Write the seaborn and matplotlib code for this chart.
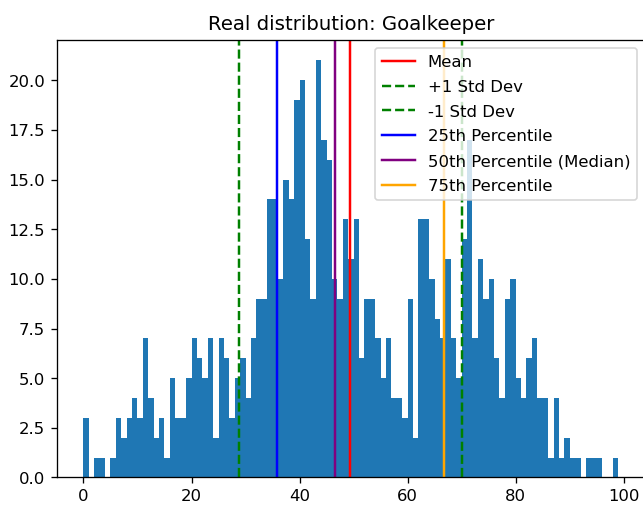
import numpy as np
import pandas as pd
import matplotlib
matplotlib.use("Agg")
import matplotlib.pyplot as plt
import seaborn as sns

# Score bins: unit-wide bins from 0 to 99 (last bin is [98, 99])
bin_starts = np.arange(0, 99)

# Number of goalkeepers per unit bin
counts = np.array(
    [3, 0, 1, 1, 0, 1, 3, 2, 3, 4, 3, 7, 4, 2, 3, 1, 5, 3, 3, 5,
     7, 6, 5, 7, 2, 7, 6, 3, 5, 6, 4, 7, 9, 9,
     14, 14, 10, 15, 14, 19, 20, 12, 9, 21, 17, 16, 10, 9, 13, 11, 13, 6,
     9, 9, 7, 5, 7, 4, 4, 3, 9, 2, 13, 13, 10, 8, 7, 11, 7, 5,
     12, 17, 7, 11, 9, 10, 6, 4, 9, 10, 5, 4, 6, 7, 4, 4,
     1, 4, 1, 2, 1, 1, 0, 1, 1, 1, 0, 0, 1]
)

# Summary statistics of the score distribution
mean_value = 49.42
std_value = 20.65
percentile_25 = 35.8
percentile_50 = 46.5
percentile_75 = 66.7

scores = pd.DataFrame({"score": bin_starts, "n": counts})

DPI = 118.4
fig = plt.figure(figsize=(643.4 / DPI, 506.4 / DPI), dpi=DPI)
ax = fig.add_axes([0.08813, 0.05632, 0.9145, 0.86462])

sns.histplot(data=scores, x="score", weights="n", binwidth=1, binrange=(0, 99),
             ax=ax, color="#1f77b4", alpha=1.0, edgecolor="none", linewidth=0)

ax.axvline(mean_value, color="red", linestyle="-", label="Mean")
ax.axvline(mean_value + std_value, color="green", linestyle="--", label="+1 Std Dev")
ax.axvline(mean_value - std_value, color="green", linestyle="--", label="-1 Std Dev")
ax.axvline(percentile_25, color="blue", linestyle="-", label="25th Percentile")
ax.axvline(percentile_50, color="purple", linestyle="-", label="50th Percentile (Median)")
ax.axvline(percentile_75, color="orange", linestyle="-", label="75th Percentile")

ax.set_xlabel("")
ax.set_ylabel("")
ax.set_title("Real distribution: Goalkeeper")
ax.legend(loc="upper right", labelspacing=0.6)

fig.savefig("out.png", dpi=DPI)
